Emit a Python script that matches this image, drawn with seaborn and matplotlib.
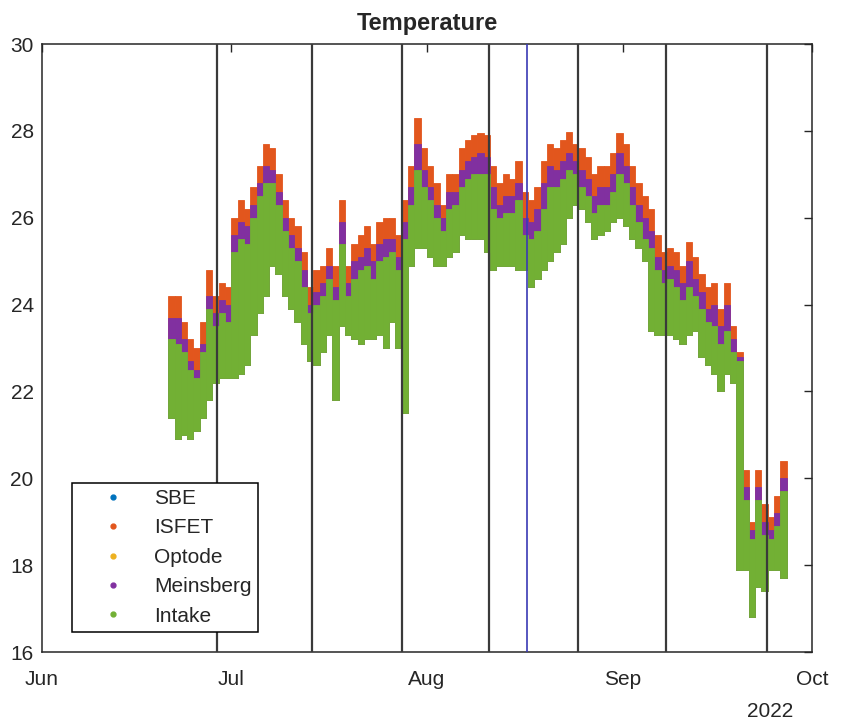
import numpy as np
import pandas as pd
import matplotlib
matplotlib.use("Agg")
import matplotlib.pyplot as plt
import matplotlib.dates as mdates
from matplotlib.lines import Line2D
import seaborn as sns

# daily envelopes (21 Jun .. 26 Sep 2022)
days = pd.date_range("2022-06-21", "2022-09-26", freq="D")

isfet_hi = [
    24.2, 24.2, 23.6, 23.2, 23.0, 23.6, 24.8, 24.2, 24.5, 24.4,
    26.0, 26.4, 26.2, 26.7, 27.2, 27.7, 27.6, 27.0, 26.4, 26.0, 25.8, 25.2, 24.4, 24.8, 24.9, 25.3,
    24.9, 26.4, 24.9, 25.4, 25.6, 25.8, 25.4, 25.9, 26.0, 26.0, 25.6, 26.4, 27.2, 28.3, 27.6,
    27.2, 26.8, 26.3, 27.0, 27.0, 27.6, 27.8, 27.9, 27.95, 27.9, 27.2, 26.8, 27.0, 26.9, 27.3, 26.6,
    26.4, 26.7, 27.3, 27.7, 27.6, 27.8, 27.98, 27.7, 27.6, 27.4, 27.0, 27.2, 27.2, 27.5, 27.95,
    27.7, 27.2, 26.8, 26.5, 26.2, 25.6, 25.2, 25.3, 25.2, 24.9, 25.45, 25.1, 24.7, 24.4, 24.5, 23.9,
    24.5, 23.5, 22.9, 20.2, 19.0, 20.2, 19.4, 19.1, 19.6, 20.4,
]
meins_hi = [
    23.7, 23.7, 23.2, 22.7, 22.5, 23.1, 24.2, 23.8, 24.1, 24.0,
    25.6, 25.9, 25.8, 26.3, 26.8, 27.2, 27.1, 26.6, 26.0, 25.6, 25.3, 24.8, 24.0, 24.3, 24.5, 24.9,
    24.4, 25.9, 24.5, 25.0, 25.1, 25.3, 25.0, 25.4, 25.5, 25.5, 25.1, 25.9, 26.7, 27.7, 27.1,
    26.7, 26.3, 26.0, 26.6, 26.6, 27.1, 27.3, 27.4, 27.5, 27.4, 26.7, 26.3, 26.5, 26.5, 26.8, 26.0,
    25.9, 26.2, 26.8, 27.2, 27.1, 27.3, 27.5, 27.3, 27.1, 26.9, 26.5, 26.7, 26.7, 27.0, 27.5,
    27.2, 26.7, 26.3, 26.0, 25.7, 25.1, 24.8, 24.9, 24.8, 24.5, 25.0, 24.6, 24.3, 23.9, 24.0, 23.5,
    24.0, 23.2, 22.8, 19.8, 18.8, 19.8, 19.0, 18.8, 19.2, 20.0,
]
intake_hi = [
    23.2, 23.1, 22.9, 22.5, 22.3, 22.9, 23.9, 23.5, 23.8, 23.6,
    25.2, 25.5, 25.4, 26.0, 26.5, 26.8, 26.8, 26.3, 25.7, 25.3, 25.0, 24.4, 23.8, 24.0, 24.2, 24.6,
    24.1, 25.4, 24.2, 24.6, 24.8, 24.9, 24.6, 25.0, 25.1, 25.2, 24.8, 25.5, 26.3, 27.1, 26.7,
    26.4, 26.0, 25.7, 26.2, 26.3, 26.7, 26.9, 27.0, 27.0, 27.0, 26.2, 26.0, 26.1, 26.1, 26.4, 25.6,
    25.5, 25.7, 26.2, 26.7, 26.7, 26.9, 27.1, 27.0, 26.7, 26.5, 26.1, 26.3, 26.3, 26.6, 27.0,
    26.8, 26.3, 25.9, 25.5, 25.3, 24.8, 24.5, 24.6, 24.4, 24.1, 24.4, 24.2, 23.9, 23.6, 23.5, 23.1,
    23.4, 22.9, 22.7, 19.5, 18.6, 19.5, 18.7, 18.6, 18.9, 19.7,
]
intake_lo = [
    21.4, 20.9, 21.0, 20.9, 21.1, 21.4, 21.8, 22.2, 22.3, 22.3,
    22.3, 22.4, 22.6, 23.3, 23.8, 24.2, 24.9, 24.7, 24.2, 23.9, 23.6, 23.1, 22.7, 22.6, 22.9, 23.3,
    21.8, 23.5, 23.3, 23.2, 23.1, 23.2, 23.2, 23.3, 23.0, 23.6, 23.0, 21.5, 24.9, 25.3, 25.3,
    25.1, 24.9, 24.9, 25.1, 25.2, 25.6, 25.5, 25.5, 25.5, 25.2, 24.8, 24.9, 24.9, 24.9, 24.8, 24.8,
    24.4, 24.6, 24.8, 25.0, 25.2, 25.4, 26.0, 26.3, 26.2, 25.9, 25.5, 25.6, 25.7, 25.9, 26.0,
    25.8, 25.5, 25.3, 25.0, 23.4, 23.3, 23.3, 23.3, 23.2, 23.1, 23.3, 23.4, 22.8, 22.6, 22.4, 22.0,
    22.4, 22.2, 17.9, 17.9, 16.8, 17.5, 17.4, 17.9, 17.9, 17.7,
]
# SBE and Optode sit underneath the other sensors and are not visible
sbe_hi = intake_hi
optode_hi = intake_hi

names = ["SBE", "ISFET", "Optode", "Meinsberg", "Intake"]
colors = ["#0072BD", "#E2561D", "#EDB120", "#8130A0", "#72B034"]
highs = [sbe_hi, isfet_hi, optode_hi, meins_hi, intake_hi]

event_times = pd.to_datetime([
    "2022-06-28 17:00", "2022-07-13 19:00", "2022-07-28 01:00", "2022-08-10 19:00",
    "2022-08-24 22:00", "2022-09-07 22:00", "2022-09-23 22:00",
])
blue_time = pd.Timestamp("2022-08-16 22:00")

sns.set_style("white")
plt.rcParams["font.family"] = ["Liberation Sans", "DejaVu Sans"]

fig = plt.figure(figsize=(8.41, 7.24), dpi=100)
ax = fig.add_axes([0.0499, 0.0994, 0.9156, 0.8398])

lo = np.array(intake_lo)
for name, hi, c in zip(names, highs, colors):
    hi = np.array(hi)
    ax.bar(days, hi - lo, bottom=lo, width=1.0, align="edge",
           color=c, edgecolor=c, linewidth=0.6, zorder=2)

for t in event_times:
    ax.axvline(t, color="#3a3a3a", lw=1.6, zorder=3)
ax.axvline(blue_time, color="#3a3ab4", lw=1.2, zorder=3)

ax.set_xlim(pd.Timestamp("2022-06-01"), pd.Timestamp("2022-10-01"))
ax.set_ylim(16, 30)
ax.set_yticks(range(16, 31, 2))
ax.xaxis.set_major_locator(mdates.MonthLocator())
ax.xaxis.set_major_formatter(mdates.DateFormatter("%b"))
ax.tick_params(direction="in", length=6, width=1, top=True, right=True,
               labelsize=15, colors="#262626")
ax.tick_params(axis="x", pad=13)
ax.tick_params(axis="y", pad=6)
for s in ax.spines.values():
    s.set_color("#262626")
    s.set_linewidth(1.1)

ax.set_title("Temperature", fontsize=17, fontweight="bold", pad=10)
ax.text(0.945, -0.097, "2022", transform=ax.transAxes, ha="center", va="center",
        fontsize=15, color="#262626")

handles = [Line2D([], [], marker=".", ls="", color=c, markersize=7) for c in colors]
leg = ax.legend(handles, names, loc="lower left", bbox_to_anchor=(0.039, 0.033),
                frameon=True, fancybox=False, edgecolor="black", framealpha=1,
                fontsize=15, handletextpad=0.35, labelspacing=0.5, borderpad=0.3,
                handlelength=3.3, borderaxespad=0)
leg.get_frame().set_linewidth(1.1)
leg.set_zorder(5)

fig.savefig("out.png", dpi=100)
